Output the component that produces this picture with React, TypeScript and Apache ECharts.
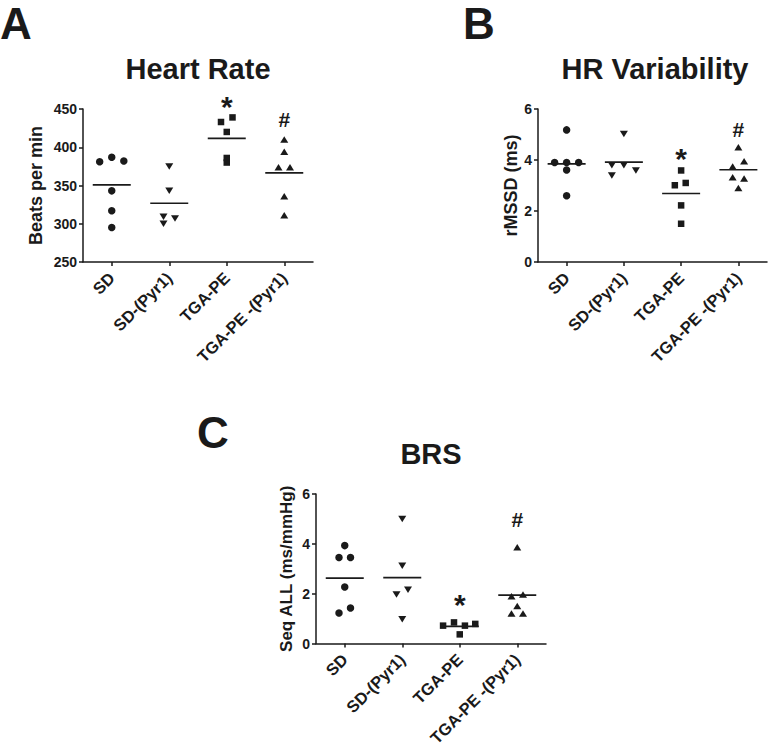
import React, { useEffect, useRef } from "react";
import * as echarts from "echarts";

const categories = ["SD", "SD-(Pyr1)", "TGA-PE", "TGA-PE -(Pyr1)"];
const symbols = ["circle", "triangle", "rect", "triangle"];
const symbolRotations = [0, 180, 0, 0];

// Heart rate (beats per min)
const hrSD = [381, 387, 382, 343, 317, 295];
const hrSDPyr = [375, 343, 309, 300, 307];
const hrTGA = [433, 439, 420, 386, 380];
const hrTGAPyr = [410, 394, 374, 374, 336, 311];
const hrJitSD = [-0.21, 0, 0.21, 0, 0, 0];
const hrJitSDPyr = [0, 0, -0.1, -0.1, 0.1];
const hrJitTGA = [-0.1, 0.1, 0, 0, 0];
const hrJitTGAPyr = [0, 0, -0.1, 0.1, 0, 0];
const hrTicks = { min: 250, max: 450, interval: 50 };
const hrAnnot = [462, 437];

// HR variability rMSSD (ms)
const hrvSD = [5.18, 3.9, 3.9, 3.9, 3.61, 2.6];
const hrvSDPyr = [5.02, 3.79, 3.79, 3.59, 3.39];
const hrvTGA = [3.59, 3.01, 3.1, 2.22, 1.5];
const hrvTGAPyr = [4.5, 3.75, 3.95, 3.32, 3.27, 2.9];
const hrvJitSD = [0, -0.21, 0, 0.21, 0, 0];
const hrvJitSDPyr = [0, -0.21, 0, 0.21, -0.21];
const hrvJitTGA = [0, -0.11, 0.08, 0, 0];
const hrvJitTGAPyr = [0, -0.1, 0.1, -0.1, 0.1, 0];
const hrvTicks = { min: 0, max: 6, interval: 2 };
const hrvAnnot = [4.35, 5.24];

// BRS Seq ALL (ms/mmHg)
const brsSD = [3.93, 3.45, 3.45, 2.27, 1.23, 1.43];
const brsSDPyr = [5.0, 3.12, 1.97, 2.16, 0.98];
const brsTGA = [0.72, 0.85, 0.72, 0.79, 0.37];
const brsTGAPyr = [3.86, 1.9, 1.97, 1.51, 1.21, 1.21];
const brsJitSD = [0, -0.1, 0.1, 0, -0.1, 0.1];
const brsJitSDPyr = [0, 0, -0.1, 0.1, 0];
const brsJitTGA = [-0.29, -0.1, 0.09, 0.27, 0];
const brsJitTGAPyr = [0, -0.1, 0.1, 0, -0.1, 0.1];
const brsTicks = { min: 0, max: 6, interval: 2 };
const brsAnnot = [1.83, 5.0];

const annotTexts = ["*", "#"];
const annotCats = [2, 3];

const FONT = "'Liberation Sans', Arial, Helvetica, sans-serif";
const INK = "#1a1a1a";

const mean = (a: number[]) => a.reduce((s, v) => s + v, 0) / a.length;

function panelSeries(
  p: number,
  groups: number[][],
  jitters: number[][],
  annot: number[]
) {
  const xi = p * 2 + 1;
  const yi = p;
  const out: any[] = [];
  groups.forEach((vals, i) => {
    out.push({
      type: "scatter",
      xAxisIndex: xi,
      yAxisIndex: yi,
      symbol: symbols[i],
      symbolRotate: symbolRotations[i],
      symbolSize: symbols[i] === "circle" ? 7.5 : symbols[i] === "rect" ? 6.5 : [8, 6.5],
      itemStyle: { color: INK, opacity: 1 },
      data: vals.map((v, k) => [i + jitters[i][k], v]),
      z: 3,
    });
  });
  out.push({
    type: "scatter",
    xAxisIndex: xi,
    yAxisIndex: yi,
    symbol: "rect",
    symbolSize: [38, 1.6],
    itemStyle: { color: INK, opacity: 1 },
    data: groups.map((vals, i) => [i, mean(vals)]),
    z: 2,
  });
  out.push({
    type: "scatter",
    xAxisIndex: xi,
    yAxisIndex: yi,
    symbolSize: 0,
    clip: false,
    itemStyle: { color: INK, opacity: 1 },
    data: annot.map((v, k) => ({
      value: [annotCats[k], v],
      label: {
        show: true,
        position: "inside",
        formatter: annotTexts[k],
        fontSize: k === 0 ? 30 : 21,
        fontWeight: "bold",
        fontFamily: FONT,
        color: INK,
        opacity: 1,
        textBorderWidth: 0,
        offset: k === 0 ? [0, 7] : [0, 1],
      },
    })),
    z: 4,
  });
  return out;
}

export default function App() {
  const ref = useRef<HTMLDivElement>(null);
  useEffect(() => {
    if (!ref.current) return;
    const chart = echarts.init(ref.current, undefined, { renderer: "svg" });
    const grids = [
      { left: 83, top: 109, width: 230, height: 153 },
      { left: 538, top: 109, width: 229, height: 153 },
      { left: 316, top: 494, width: 230, height: 153 },
    ];
    const yNames = ["Beats per min", "rMSSD (ms)", "Seq ALL (ms/mmHg)"];
    const yNameGaps = [38, 17, 21];
    const yNameSizes = [18, 18, 17];
    const ticks = [hrTicks, hrvTicks, brsTicks];
    const axisLine = { show: true, onZero: false, lineStyle: { color: INK, width: 1.5 } };
    const axisTick = { show: true, length: 4, lineStyle: { color: INK, width: 1.5 } };
    const xAxis: any[] = [];
    const yAxis: any[] = [];
    grids.forEach((_, i) => {
      xAxis.push({
        type: "category",
        gridIndex: i,
        data: categories,
        boundaryGap: true,
        axisLine,
        axisTick: { ...axisTick, alignWithLabel: true },
        axisLabel: {
          rotate: 45,
          interval: 0,
          margin: 13,
          fontSize: 16.5,
          fontWeight: "bold",
          fontFamily: FONT,
          color: INK,
        },
        splitLine: { show: false },
      });
      xAxis.push({
        type: "value",
        gridIndex: i,
        min: -0.5,
        max: 3.5,
        show: false,
        axisLine: { onZero: false },
        splitLine: { show: false },
      });
      yAxis.push({
        type: "value",
        gridIndex: i,
        min: ticks[i].min,
        max: ticks[i].max,
        interval: ticks[i].interval,
        name: yNames[i],
        nameLocation: "middle",
        nameGap: yNameGaps[i],
        nameTextStyle: {
          fontSize: yNameSizes[i],
          fontWeight: "bold",
          fontFamily: FONT,
          color: INK,
        },
        axisLine,
        axisTick,
        axisLabel: {
          margin: 6,
          fontSize: 14,
          fontWeight: "bold",
          fontFamily: FONT,
          color: INK,
        },
        splitLine: { show: false },
      });
    });
    const txt = (text: string, x: number, y: number, size: number, align: string) => ({
      type: "text",
      x,
      y,
      style: {
        text,
        fontSize: size,
        fontWeight: "bold",
        fontFamily: FONT,
        fill: INK,
        align,
        verticalAlign: "middle",
      },
    });
    chart.setOption({
      animation: false,
      backgroundColor: "#ffffff",
      grid: grids,
      xAxis,
      yAxis,
      graphic: [
        txt("A", 0, 23, 44, "left"),
        txt("B", 463, 23, 44, "left"),
        txt("C", 197, 432, 44, "left"),
        txt("Heart Rate", 198, 69, 29, "center"),
        txt("HR Variability", 655, 69, 29, "center"),
        txt("BRS", 431, 454, 29, "center"),
      ],
      series: [
        ...panelSeries(0, [hrSD, hrSDPyr, hrTGA, hrTGAPyr], [hrJitSD, hrJitSDPyr, hrJitTGA, hrJitTGAPyr], hrAnnot),
        ...panelSeries(1, [hrvSD, hrvSDPyr, hrvTGA, hrvTGAPyr], [hrvJitSD, hrvJitSDPyr, hrvJitTGA, hrvJitTGAPyr], hrvAnnot),
        ...panelSeries(2, [brsSD, brsSDPyr, brsTGA, brsTGAPyr], [brsJitSD, brsJitSDPyr, brsJitTGA, brsJitTGAPyr], brsAnnot),
      ],
    });
    return () => chart.dispose();
  }, []);
  return (
    <div
      ref={ref}
      style={{ position: "absolute", left: 0, top: 0, width: 768, height: 749 }}
    />
  );
}
